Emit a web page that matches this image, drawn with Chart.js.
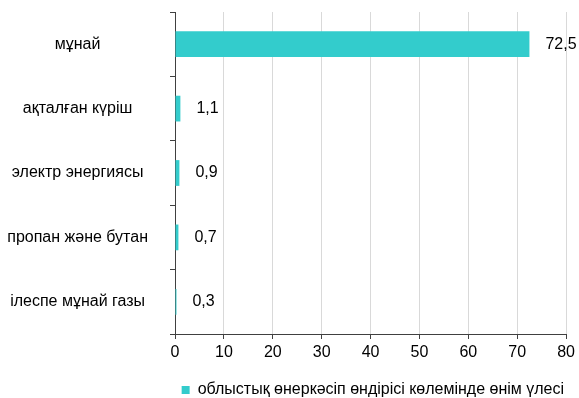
<!DOCTYPE html>
<html>
<head>
<meta charset="utf-8">
<script src="https://cdn.jsdelivr.net/npm/chart.js@4"></script>
<style>
  html, body { margin: 0; padding: 0; background: #fff; }
  #wrap { width: 579px; height: 398px; }
</style>
</head>
<body>
<div id="wrap"><canvas id="chart1"></canvas></div>
<script>
// облыстық өнеркәсіп өндірісі көлеміндегі өнім үлесі, %
const categories = ['мұнай', 'ақталған күріш', 'электр энергиясы', 'пропан және бутан', 'ілеспе мұнай газы'];
const shares = [72.5, 1.1, 0.9, 0.7, 0.3];
const seriesName = 'облыстық өнеркәсіп өндірісі көлемінде өнім үлесі';
const xTicks = [0, 10, 20, 30, 40, 50, 60, 70, 80];

const FONT = "'Liberation Sans', Arial, sans-serif";

// value labels to the right of each bar
const barLabels = {
    id: 'barLabels',
    afterDatasetsDraw(chart) {
        const ctx = chart.ctx;
        const meta = chart.getDatasetMeta(0);
        ctx.save();
        ctx.font = '16px ' + FONT;
        ctx.fillStyle = '#000';
        ctx.textAlign = 'left';
        ctx.textBaseline = 'middle';
        meta.data.forEach((bar, i) => {
            ctx.fillText(String(shares[i]).replace('.', ','), bar.x + 16, bar.y);
        });
        ctx.restore();
    }
};

new Chart(document.getElementById('chart1'), {
    type: 'bar',
    data: {
        labels: categories,
        datasets: [{
            label: seriesName,
            data: shares,
            backgroundColor: '#33cccc',
            borderWidth: 0,
            barPercentage: 0.4,
            categoryPercentage: 1
        }]
    },
    options: {
        indexAxis: 'y',
        responsive: true,
        maintainAspectRatio: false,
        animation: false,
        layout: { padding: { top: 12, right: 12, left: 0, bottom: -10 } },
        scales: {
            x: {
                min: 0,
                max: 80,
                afterBuildTicks(axis) { axis.ticks = xTicks.map(v => ({ value: v })); },
                grid: { color: '#d9d9d9', tickColor: '#404040', tickLength: 5 },
                border: { color: '#404040' },
                ticks: { color: '#000', font: { family: FONT, size: 16 }, padding: 4 },
                afterFit(axis) { axis.height = 45; }
            },
            y: {
                grid: { drawOnChartArea: false, color: '#404040', tickLength: 5 },
                border: { color: '#404040' },
                ticks: { color: '#000', crossAlign: 'center', font: { family: FONT, size: 16 }, padding: 22 },
                afterFit(axis) {
                    axis.width = 175;
                    axis.paddingTop = 0;
                    axis.paddingBottom = 0;
                }
            }
        },
        plugins: {
            tooltip: { enabled: false },
            legend: {
                position: 'bottom',
                align: 'end',
                labels: {
                    color: '#000',
                    boxWidth: 8,
                    boxHeight: 8,
                    font: { family: FONT, size: 16 },
                    padding: 3
                }
            }
        }
    },
    plugins: [barLabels]
});
</script>
</body>
</html>
